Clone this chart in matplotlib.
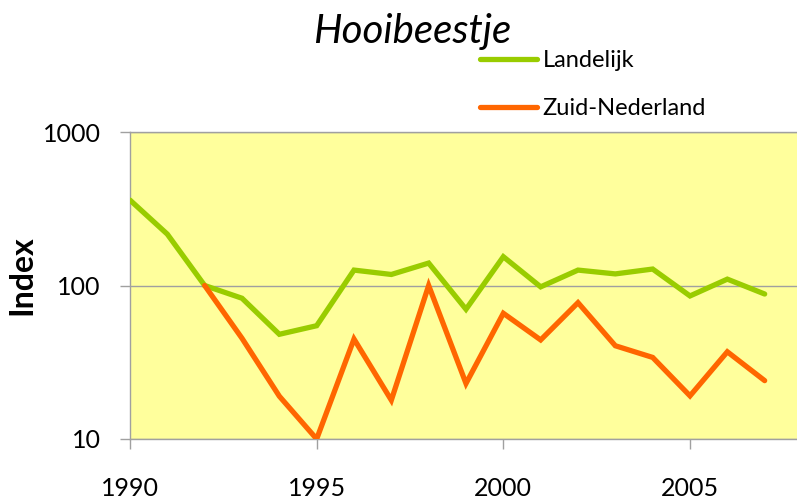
import matplotlib.pyplot as plt
from matplotlib.ticker import FixedLocator, NullLocator, FixedFormatter

# Data
years = list(range(1990, 2008))
landelijk = [360, 216, 100, 82.6, 48.1, 54.7, 126, 118, 140, 70,
             154, 98, 126, 119, 128, 85.5, 110, 88]
zuid_years = list(range(1992, 2008))
zuid = [100, 45.3, 19, 10, 44.8, 17.9, 100, 23, 65.9, 44.2,
        77.3, 40.5, 34, 19.1, 37, 24]
x_ticks = [1990, 1995, 2000, 2005]
y_ticks = [10, 100, 1000]
y_labels = ["10", "100", "1000"]

plt.rcParams['font.family'] = ['Lato', 'DejaVu Sans']

W, H = 797, 500
fig = plt.figure(figsize=(W / 100, H / 100), dpi=100)
# axes: x 130 -> 802 (2008 just beyond image edge), y 132 -> 439
ax = fig.add_axes([130 / W, 1 - 439 / H, 672 / W, 307 / H])
ax.set_facecolor('#FFFF9C')

ax.plot(years, landelijk, color='#99CC00', linewidth=3.8, solid_capstyle='round',
        solid_joinstyle='miter', label='Landelijk', zorder=3)
ax.plot(zuid_years, zuid, color='#FF6600', linewidth=3.8, solid_capstyle='round',
        solid_joinstyle='miter', label='Zuid-Nederland', zorder=3)

ax.set_yscale('log')
ax.set_ylim(10, 1000)
ax.set_xlim(1990, 2008)
ax.yaxis.set_major_locator(FixedLocator(y_ticks))
ax.yaxis.set_major_formatter(FixedFormatter(y_labels))
ax.yaxis.set_minor_locator(NullLocator())
ax.set_xticks(x_ticks)
ax.set_xticklabels([str(t) for t in x_ticks])

ax.grid(True, axis='y', color='#A0A0A0', linewidth=1.0)
for s in ['left', 'bottom', 'top']:
    ax.spines[s].set_color('#A0A0A0')
    ax.spines[s].set_linewidth(1.0)
ax.spines['right'].set_visible(False)
ax.tick_params(axis='both', colors='#A0A0A0', labelcolor='black', length=7,
               width=1.0, labelsize=18)
ax.tick_params(axis='y', pad=14)
ax.tick_params(axis='x', pad=20)

ax.set_ylabel('Index', fontsize=23, fontweight='bold')
ax.yaxis.set_label_coords((36 - 130) / 672, 0.534)

fig.text(412 / W, 1 - 31 / H, 'Hooibeestje', fontsize=29, style='italic',
         ha='center', va='center')

fig.legend(loc='upper left', bbox_to_anchor=(480 / W, 1 - 50 / H), frameon=False,
           fontsize=17, handlelength=2.4, handletextpad=0.25, labelspacing=1.15,
           borderaxespad=0, borderpad=0)

fig.savefig('out.png', dpi=100)
